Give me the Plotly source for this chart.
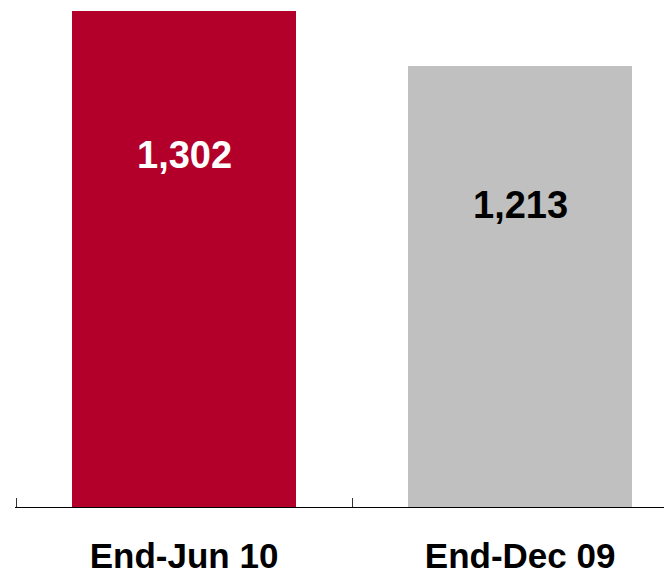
import plotly.graph_objects as go

categories = ["End-Jun 10", "End-Dec 09"]
values = [1302, 1213]
value_labels = ["1,302", "1,213"]
bar_colors = ["#B3002A", "#C0C0C0"]
label_colors = ["#FFFFFF", "#000000"]
label_shifts = [-144, -139]

FONT = "Liberation Sans, Arial, sans-serif"

fig = go.Figure()
fig.add_trace(go.Bar(
    x=categories, y=values, width=0.665,
    marker=dict(color=bar_colors, line=dict(width=0)),
    hoverinfo="skip",
))

for c, v, t, col, sh in zip(categories, values, value_labels, label_colors, label_shifts):
    fig.add_annotation(x=c, y=v, text=t, showarrow=False, yshift=sh,
                       yanchor="middle",
                       font=dict(family=FONT, size=38, color=col, weight="bold"))

fig.update_layout(
    width=664, height=565,
    margin=dict(l=7, r=0, t=0, b=66),
    paper_bgcolor="white", plot_bgcolor="white",
    showlegend=False,
    bargap=0,
    xaxis=dict(
        type="category",
        range=[-0.503, 1.452],
        showline=True, linecolor="black", linewidth=1,
        ticks="inside", ticklen=9, tickcolor="#333333", tickwidth=1,
        tickson="boundaries",
        showgrid=False, zeroline=False,
        tickfont=dict(family=FONT, size=35, color="black", weight="bold"),
        ticklabelstandoff=18,
        automargin=False,
    ),
    yaxis=dict(
        range=[500, 1307.1], visible=False, showgrid=False, zeroline=False,
    ),
)

fig.write_html("out.html")
